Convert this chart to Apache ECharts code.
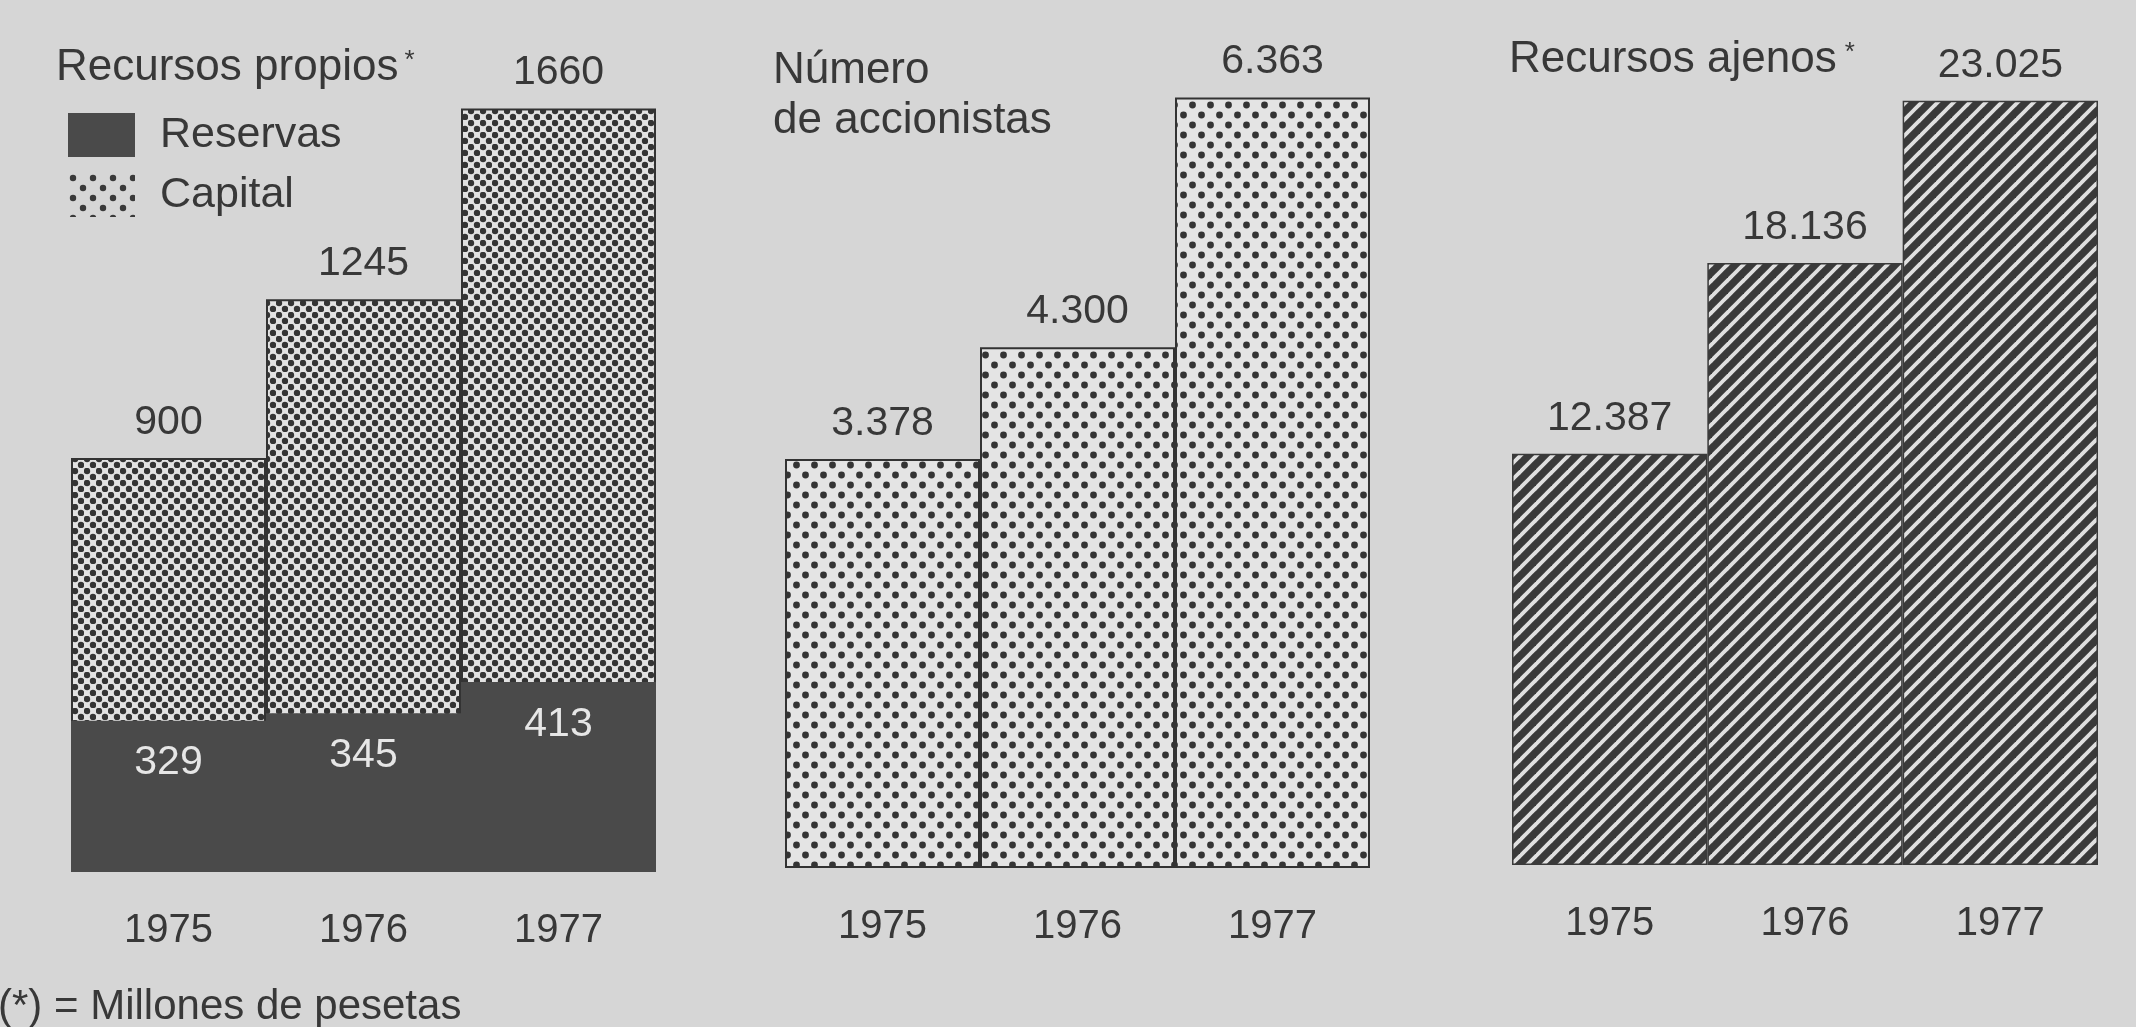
<!DOCTYPE html>
<html><head><meta charset="utf-8">
<script src="https://cdn.jsdelivr.net/npm/echarts@6/dist/echarts.min.js"></script>
<style>html,body{margin:0;padding:0;background:#d6d6d6;}#c{width:2136px;height:1027px;}</style>
</head><body><div id="c"></div>
<script>
// ---- data ----
const years = ['1975', '1976', '1977'];
const recursosPropios = [900, 1245, 1660];   // totals (Reservas + Capital), labelled on top
const reservas = [329, 345, 413];
const accionistas = [3378, 4300, 6363];
const recursosAjenos = [12387, 18136, 23025];

const FONT = "'Liberation Sans', Arial, Helvetica, sans-serif";
const INK = '#383838';

function dotTile(P, b, r, bg, fg) {
  const c = document.createElement('canvas');
  c.width = P; c.height = 2 * b;
  const x = c.getContext('2d');
  if (bg) { x.fillStyle = bg; x.fillRect(0, 0, P, 2 * b); }
  x.fillStyle = fg;
  [[P / 4, b / 2], [3 * P / 4, 1.5 * b]].forEach(([cx, cy]) => {
    x.beginPath(); x.arc(cx, cy, r, 0, Math.PI * 2); x.fill();
  });
  return c;
}
function stripeTile(s, w, bg, fg) {
  const c = document.createElement('canvas');
  c.width = s; c.height = s;
  const x = c.getContext('2d');
  x.fillStyle = bg; x.fillRect(0, 0, s, s);
  x.strokeStyle = fg; x.lineWidth = w; x.lineCap = 'square';
  for (const k of [-1, 0, 1]) {
    x.beginPath(); x.moveTo(k * s - 2, s + 2); x.lineTo(k * s + s + 2, -2); x.stroke();
  }
  return c;
}
const capitalFill = { image: dotTile(12, 6, 3.2, '#e2e2e2', '#343434'), repeat: 'repeat' };
const legendFill = { image: dotTile(20, 10, 3.2, null, '#3a3a3a'), repeat: 'repeat' };
const accionFill = { image: dotTile(18, 10, 3.4, '#e4e4e4', '#343434'), repeat: 'repeat' };
const stripeFill = { image: stripeTile(16, 7.5, '#e0e0e0', '#3a3a3a'), repeat: 'repeat' };

const dots = v => String(v).replace(/\B(?=(\d{3})+(?!\d))/g, '.');

const labelTop = (fmt) => ({
  show: true, position: 'top', distance: 15, color: INK,
  fontSize: 41, fontFamily: FONT, formatter: fmt
});

const chart = echarts.init(document.getElementById('c'), null, { renderer: 'canvas' });
chart.setOption({
  animation: false,
  backgroundColor: '#d6d6d6',
  textStyle: { fontFamily: FONT },
  title: [
    { text: 'Recursos propios{s|*}', left: 56, top: 46, padding: 0,
      textStyle: { fontSize: 44, fontWeight: 'normal', color: INK, fontFamily: FONT,
        rich: { s: { fontSize: 26, color: INK, fontFamily: FONT, padding: [0, 0, 14, 6] } } } },
    { text: 'Número\nde accionistas', left: 773, top: 46, padding: 0,
      textStyle: { fontSize: 44, lineHeight: 50, fontWeight: 'normal', color: INK, fontFamily: FONT } },
    { text: 'Recursos ajenos{s|*}', left: 1509, top: 38, padding: 0,
      textStyle: { fontSize: 44, fontWeight: 'normal', color: INK, fontFamily: FONT,
        rich: { s: { fontSize: 26, color: INK, fontFamily: FONT, padding: [0, 0, 14, 8] } } } },
    { text: '(*) = Millones de pesetas', left: -2, top: 986, padding: 0,
      textStyle: { fontSize: 42, fontWeight: 'normal', color: INK, fontFamily: FONT } }
  ],
  legend: {
    orient: 'vertical', left: 68, top: 113, padding: 0,
    itemWidth: 67, itemHeight: 44, itemGap: 16, icon: 'rect', selectedMode: false,
    textStyle: { fontSize: 43, color: INK, fontFamily: FONT, padding: [0, 0, 0, 20] },
    data: [
      { name: 'Reservas', itemStyle: { color: '#4a4a4a', borderWidth: 0 } },
      { name: 'Capital', itemStyle: { color: legendFill, borderWidth: 0 } }
    ]
  },
  grid: [
    { left: 71, width: 585, top: 90, height: 782, outerBoundsMode: 'none' },
    { left: 785, width: 585, top: 81, height: 787, outerBoundsMode: 'none' },
    { left: 1512, width: 586, top: 85, height: 780, outerBoundsMode: 'none' }
  ],
  xAxis: [0, 1, 2].map(i => ({
    type: 'category', gridIndex: i, data: years,
    axisLine: { show: false }, axisTick: { show: false }, splitLine: { show: false },
    axisLabel: { fontSize: 40, color: INK, fontFamily: FONT, margin: 39 }
  })),
  yAxis: [
    { type: 'value', gridIndex: 0, min: 0, max: 1700, show: false, splitLine: { show: false } },
    { type: 'value', gridIndex: 1, min: 0, max: 6500, show: false, splitLine: { show: false } },
    { type: 'value', gridIndex: 2, min: 0, max: 23500, show: false, splitLine: { show: false } }
  ],
  series: [
    { name: 'Capital', type: 'bar', xAxisIndex: 0, yAxisIndex: 0, data: recursosPropios,
      barCategoryGap: '0%', barGap: '-100%',
      itemStyle: { color: capitalFill, borderColor: '#333', borderWidth: 2 },
      label: labelTop() },
    { name: 'Reservas', type: 'bar', xAxisIndex: 0, yAxisIndex: 0, data: reservas,
      barCategoryGap: '0%', barGap: '-100%',
      itemStyle: { color: '#4a4a4a' },
      label: { show: true, position: 'insideTop', distance: 22, color: '#e6e6e6',
        fontSize: 41, fontFamily: FONT } },
    { name: 'Número de accionistas', type: 'bar', xAxisIndex: 1, yAxisIndex: 1, data: accionistas,
      barCategoryGap: '0%',
      itemStyle: { color: accionFill, borderColor: '#333', borderWidth: 2 },
      label: labelTop(p => dots(p.value)) },
    { name: 'Recursos ajenos', type: 'bar', xAxisIndex: 2, yAxisIndex: 2, data: recursosAjenos,
      barCategoryGap: '0%',
      itemStyle: { color: stripeFill, borderColor: '#3a3a3a', borderWidth: 1.5 },
      label: labelTop(p => dots(p.value)) }
  ]
});
</script>
</body></html>
